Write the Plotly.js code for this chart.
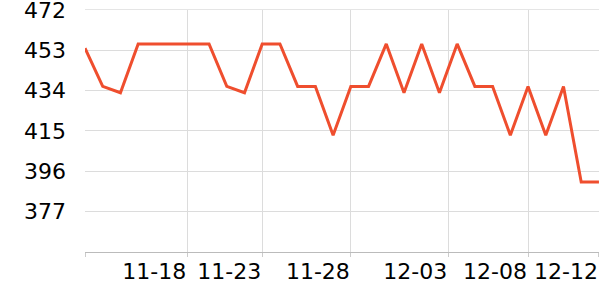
<!DOCTYPE html>
<html>
<head>
<meta charset="utf-8">
<script src="https://cdn.plot.ly/plotly-3.0.1.min.js"></script>
<style>html,body{margin:0;padding:0;background:#fff;}#chart{width:600px;height:300px;}</style>
</head>
<body>
<div id="chart"></div>
<script>
const dates = ['2023-11-13','2023-11-14','2023-11-15','2023-11-16','2023-11-17','2023-11-18','2023-11-19','2023-11-20','2023-11-21','2023-11-22',
  '2023-11-23','2023-11-24','2023-11-25','2023-11-26','2023-11-27','2023-11-28','2023-11-29','2023-11-30','2023-12-01','2023-12-02',
  '2023-12-03','2023-12-04','2023-12-05','2023-12-06','2023-12-07','2023-12-08','2023-12-09','2023-12-10','2023-12-11','2023-12-12'];
const values = [454,436,433,456,456,456,456,456,436,433,
  456,456,436,436,413,436,436,456,433,456,
  433,456,436,436,413,436,413,436,391,391];
const xTickVals = ['2023-11-13','2023-11-18 18:30','2023-11-23','2023-11-28','2023-12-03 12:00','2023-12-08','2023-12-12'];
const xTickText = ['','11-18','11-23','11-28','12-03','12-08','12-12'];
const yTickVals = [377,396,415,434,453,472];
const yMin = 358, yTop = 472, yRangeMax = 476.7;

const trace = {
  x: dates, y: values, type: 'scatter', mode: 'lines',
  line: {color: '#EF4E2E', width: 3}, hoverinfo: 'skip'
};
const layout = {
  width: 600, height: 300,
  margin: {l: 85, r: 1, t: 0, b: 48},
  paper_bgcolor: '#fff', plot_bgcolor: '#fff',
  showlegend: false,
  font: {family: 'DejaVu Sans', size: 22, color: '#000'},
  xaxis: {
    type: 'date',
    range: [dates[0], '2023-12-12 00:05'],
    tickmode: 'array', tickvals: xTickVals, ticktext: xTickText,
    ticklabelposition: 'outside left',
    ticklabeloverflow: 'allow',
    tickangle: 0,
    showgrid: true, gridcolor: '#dcdcdc', gridwidth: 1,
    showline: true, linecolor: '#bbbbbb', linewidth: 1,
    ticks: 'outside', ticklen: 4, tickcolor: '#cccccc',
    zeroline: false, tickfont: {size: 22, color: '#000'}
  },
  yaxis: {
    range: [yMin, yRangeMax],
    tickmode: 'array', tickvals: yTickVals,
    showgrid: true, gridcolor: '#dcdcdc', gridwidth: 1,
    showline: false, zeroline: false, ticks: '',
    ticklabelstandoff: 18,
    ticklabeloverflow: 'allow',
    tickfont: {size: 22, color: '#000'}
  },
  shapes: [{
    type: 'rect', xref: 'paper', yref: 'y', layer: 'above',
    x0: 0, x1: 1, y0: yTop + 0.3, y1: yRangeMax,
    fillcolor: '#ffffff', line: {width: 0}
  }]
};
Plotly.newPlot('chart', [trace], layout, {staticPlot: true, displayModeBar: false});
</script>
</body>
</html>
